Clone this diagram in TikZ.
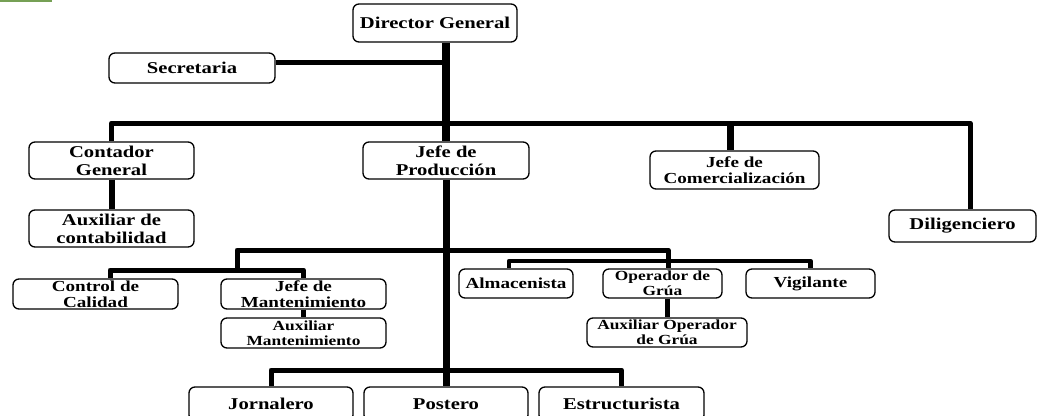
\documentclass[tikz,border=0pt]{standalone}
\usepackage{fontspec}
\setmainfont{Liberation Serif}[FakeStretch=1.25]
\definecolor{greenbar}{RGB}{118,160,85}
\begin{document}
\begin{tikzpicture}[x=1pt,y=-1pt,
  box/.style={draw=black, line width=1.3pt, rounded corners=6pt, inner sep=0pt, align=center, text=black,
    font=\bfseries\fontsize{16.5}{18}\selectfont},
  med/.style={font=\bfseries\fontsize{15.3}{16}\selectfont},
  sml/.style={font=\bfseries\fontsize{13.9}{14.5}\selectfont},
  conn/.style={draw=black, line width=5pt, line join=round},
  trunk/.style={conn, line width=8pt}]
\useasboundingbox (0,0) rectangle (1040,415);
\clip (0,0) rectangle (1040,415);
\fill[greenbar] (0,0) rectangle (52,2);

% nodes
\node[box, minimum width=164pt, minimum height=38pt] (dir) at (435,23) {Director General};
\node[box, minimum width=166pt, minimum height=30pt] (sec) at (192,68) {Secretaria};
\node[box, minimum width=165pt, minimum height=37pt] (cont) at (111.5,160.5) {Contador\\General};
\node[box, minimum width=165pt, minimum height=37pt] (aux) at (111.5,228.5) {Auxiliar de\\contabilidad};
\node[box, minimum width=166pt, minimum height=37pt] (prod) at (446,160.5) {Jefe de\\Producción};
\node[box, med, minimum width=169pt, minimum height=38pt] (com) at (734.5,170) {Jefe de\\Comercialización};
\node[box, minimum width=147pt, minimum height=32pt] (dil) at (962.5,226) {Diligenciero};
\node[box, med, minimum width=165pt, minimum height=30pt] (cal) at (95.5,294) {Control de\\Calidad};
\node[box, med, minimum width=165pt, minimum height=30pt] (mant) at (303.5,294) {Jefe de\\Mantenimiento};
\node[box, sml, minimum width=165pt, minimum height=30pt] (auxm) at (303.5,333) {Auxiliar\\Mantenimiento};
\node[box, med, minimum width=114pt, minimum height=29pt] (alm) at (516,283.5) {Almacenista};
\node[box, sml, minimum width=119pt, minimum height=29pt] (ope) at (662.5,283.5) {Operador de\\Grúa};
\node[box, med, minimum width=129pt, minimum height=29pt] (vig) at (810.5,283.5) {Vigilante};
\node[box, sml, minimum width=160pt, minimum height=29pt] (auxo) at (667,332.5) {Auxiliar Operador\\de Grúa};
\node[box, minimum width=164pt, minimum height=34pt] (jor) at (271,404) {Jornalero};
\node[box, minimum width=164pt, minimum height=34pt] (pos) at (446,404) {Postero};
\node[box, minimum width=165pt, minimum height=34pt] (est) at (621.5,404) {Estructurista};

% helper coordinates
\coordinate (hb) at (0,123);
\coordinate (b1) at (0,250);
\coordinate (b2) at (0,270);
\coordinate (b3) at (0,261);
\coordinate (b4) at (0,370);
\coordinate (lx) at (237,0);
\coordinate (dilx) at ([xshift=7.5pt]dil.north);
\coordinate (comx) at ([xshift=-4.5pt]com.north);
\coordinate (calx) at ([xshift=14.5pt]cal.north);
\coordinate (opx) at ([xshift=5.5pt]ope.north);
\coordinate (almx) at ([xshift=-7pt]alm.north);
\coordinate (secp) at ([yshift=5.5pt]sec.east);

% connectors
\draw[trunk] (prod.north |- dir.south) -- (prod.north);
\draw[conn, line width=4.5pt] (secp) -- (secp -| prod.north);
\draw[conn] (cont.north) -- (cont.north |- hb) -- (dilx |- hb) -- (dilx);
\draw[conn, line width=7pt] (comx |- hb) -- (comx);
\draw[conn, line width=6pt] (cont.south) -- (aux.north);
\draw[trunk, line width=7pt] (prod.south) -- (pos.north);
\draw[conn] (lx |- b2) -- (lx |- b1) -- (opx |- b1) -- (opx);
\draw[conn] (calx) |- (mant.north |- b2) -- (mant.north);
\draw[conn, line width=4.5pt] (almx) |- (vig.north |- b3) -- (vig.north);
\draw[conn] (mant.south) -- (auxm.north);
\draw[conn] (auxo.north |- ope.south) -- (auxo.north);
\draw[conn] (jor.north) |- (est.north |- b4) -- (est.north);
\end{tikzpicture}
\end{document}
